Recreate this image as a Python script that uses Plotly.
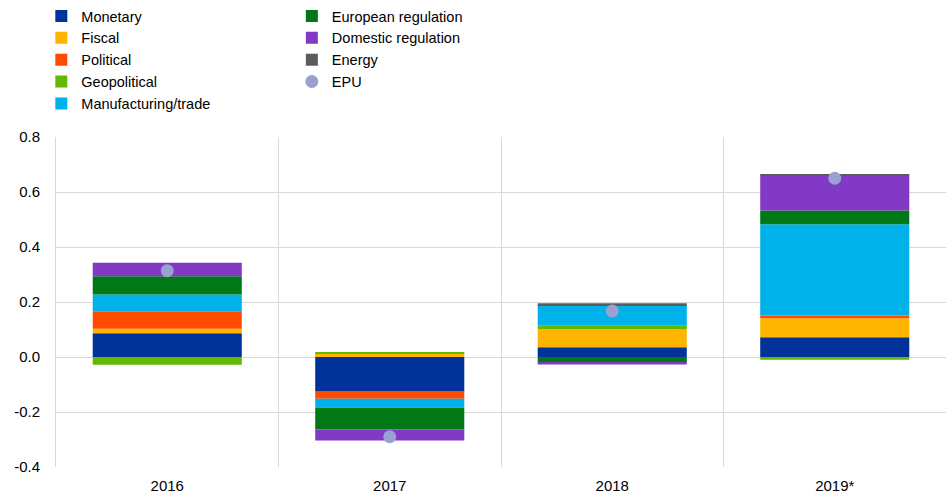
import plotly.graph_objects as go

years = ['2016', '2017', '2018', '2019*']

monetary = [0.086, -0.124, 0.035, 0.072]
fiscal = [0.017, 0.013, 0.067, 0.069]
political = [0.063, -0.028, 0.0, 0.010]
geopolitical = [-0.028, 0.002, 0.012, -0.010]
manufacturing = [0.061, -0.033, 0.074, 0.332]
european = [0.067, -0.079, -0.020, 0.050]
domestic = [0.049, -0.040, -0.007, 0.126]
energy = [0.0, 0.0, 0.007, 0.003]
epu = [0.314, -0.290, 0.167, 0.650]

y_ticks = [-0.4, -0.2, 0.0, 0.2, 0.4, 0.6, 0.8]
y_labels = ['-0.4', '-0.2', '0.0', '0.2', '0.4', '0.6', '0.8']

series = [
    ('Monetary', monetary, '#003299', 'legend'),
    ('Fiscal', fiscal, '#FFB400', 'legend'),
    ('Political', political, '#FF4B00', 'legend'),
    ('Geopolitical', geopolitical, '#65B800', 'legend'),
    ('Manufacturing/trade', manufacturing, '#00B1EA', 'legend'),
    ('European regulation', european, '#007816', 'legend2'),
    ('Domestic regulation', domestic, '#8139C6', 'legend2'),
    ('Energy', energy, '#5C5C5C', 'legend2'),
]

fig = go.Figure()
for name, vals, col, leg in series:
    fig.add_trace(
        go.Bar(
            x=years,
            y=vals,
            name=name,
            legend=leg,
            marker=dict(color=col, line=dict(width=0))
        )
    )

fig.add_trace(
    go.Scatter(
        x=years,
        y=epu,
        name='EPU',
        mode='markers',
        legend='legend2',
        marker=dict(color='#98A1D0', size=13)
    )
)

grid = '#d9d9d9'
fig.update_layout(
    width=946,
    height=499,
    barmode='relative',
    bargap=0.33,
    plot_bgcolor='white',
    paper_bgcolor='white',
    font=dict(family='Liberation Sans, Arial, sans-serif', size=15, color='black'),
    margin=dict(l=56, r=0, t=137, b=32),
    legend=dict(
        x=-0.0165, y=1.415, xanchor='left', yanchor='top',
        orientation='v', font=dict(size=14.5),
        bgcolor='rgba(0,0,0,0)'
    ),
    legend2=dict(
        x=0.265, y=1.415, xanchor='left', yanchor='top',
        orientation='v', font=dict(size=14.5),
        bgcolor='rgba(0,0,0,0)'
    ),
    xaxis=dict(
        tickson='boundaries',
        showgrid=True,
        gridcolor=grid,
        ticks='',
        showline=False,
        ticklabelstandoff=8,
    ),
    yaxis=dict(
        range=[-0.4, 0.8],
        tickvals=y_ticks,
        ticktext=y_labels,
        showgrid=True,
        gridcolor=grid,
        zeroline=False,
        showline=True,
        linecolor=grid,
        ticks='',
        ticklabelstandoff=12,
    ),
)

# page body has a default 8px margin; drop it so the figure sits at 0,0
fig.write_html(
    "out.html",
    config=dict(displayModeBar=False),
    post_script="document.body.style.margin='0';",
)
